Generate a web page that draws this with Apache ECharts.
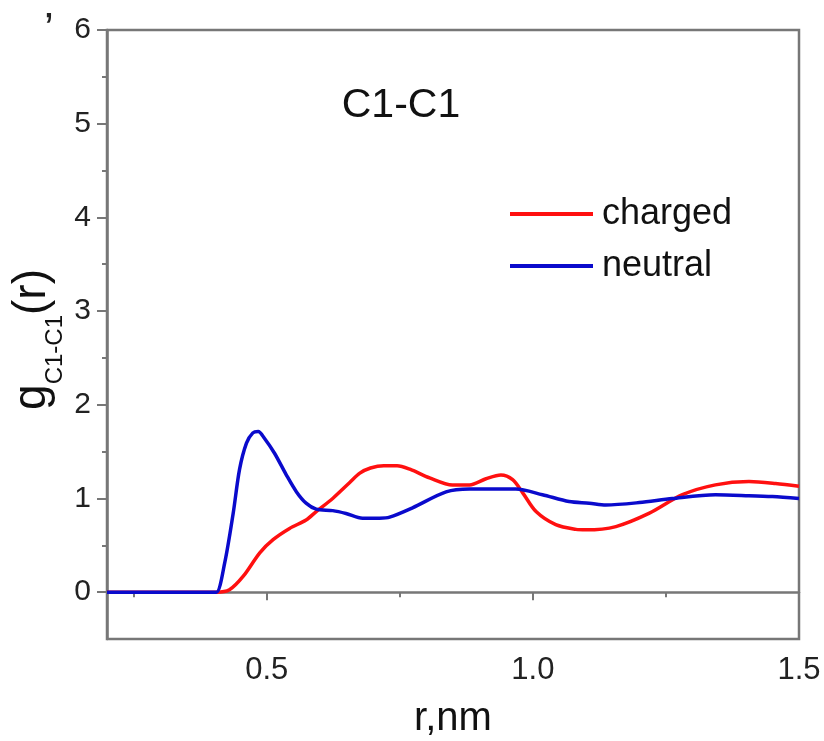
<!DOCTYPE html>
<html>
<head>
<meta charset="utf-8">
<script src="https://cdn.jsdelivr.net/npm/echarts@6/dist/echarts.min.js"></script>
<style>
html,body{margin:0;padding:0;background:#fff;}
#chart{width:824px;height:741px;}
</style>
</head>
<body>
<div id="chart"></div>
<script>
// ---- data ----
const chargedR = [0.20, 0.30, 0.395, 0.4055, 0.43, 0.456, 0.487, 0.512, 0.543, 0.574, 0.593, 0.624, 0.656, 0.675, 0.695, 0.720, 0.745, 0.770, 0.806, 0.849, 0.881, 0.912, 0.940, 0.962, 0.981, 1.006, 1.043, 1.081, 1.10, 1.156, 1.218, 1.281, 1.343, 1.406, 1.456, 1.50];
const chargedG = [0, 0, 0, 0, 0.025, 0.17, 0.42, 0.56, 0.68, 0.77, 0.86, 1.00, 1.17, 1.27, 1.325, 1.35, 1.35, 1.31, 1.22, 1.145, 1.145, 1.21, 1.25, 1.20, 1.06, 0.86, 0.72, 0.67, 0.665, 0.70, 0.84, 1.04, 1.145, 1.18, 1.16, 1.13];
const neutralR = [0.20, 0.30, 0.395, 0.4055, 0.421, 0.437, 0.449, 0.462, 0.474, 0.484, 0.496, 0.515, 0.537, 0.556, 0.574, 0.593, 0.624, 0.649, 0.680, 0.712, 0.731, 0.774, 0.837, 0.881, 0.968, 1.018, 1.068, 1.106, 1.137, 1.20, 1.262, 1.343, 1.406, 1.45, 1.50];
const neutralG = [0, 0, 0, 0, 0.31, 0.84, 1.31, 1.59, 1.70, 1.715, 1.64, 1.48, 1.25, 1.07, 0.95, 0.886, 0.87, 0.84, 0.79, 0.79, 0.80, 0.90, 1.07, 1.10, 1.10, 1.04, 0.967, 0.95, 0.93, 0.956, 1.00, 1.04, 1.03, 1.02, 1.00];
const seriesNames = ['charged', 'neutral'];
const xMajorTicks = [0.5, 1.0, 1.5];
const xMinorTicks = [0.25, 0.75, 1.25];
const yMajorTicks = [0, 1, 2, 3, 4, 5, 6];
const yMinorTicks = [0.5, 1.5, 2.5, 3.5, 4.5, 5.5];

const zip = (a, b) => a.map((v, i) => [v, b[i]]);
const FONT = 'Liberation Sans, Arial, sans-serif';
const AXIS_COLOR = '#777777';

const chart = echarts.init(document.getElementById('chart'));
const xRange = {min: 0.2, max: 1.5};
const yRange = {min: -0.5, max: 6};

chart.setOption({
  animation: false,
  backgroundColor: '#fff',
  title: {
    text: 'C1-C1',
    left: 396, top: 80, textAlign: 'center',
    textStyle: {fontFamily: FONT, fontSize: 41, fontWeight: 'normal', color: '#111'}
  },
  legend: {
    orient: 'vertical', left: 510, top: 196, padding: 0,
    icon: 'rect', itemWidth: 83, itemHeight: 4, itemGap: 16,
    data: seriesNames,
    textStyle: {fontFamily: FONT, fontSize: 36, color: '#111', padding: [0, 0, 0, 4]}
  },
  graphic: [{
    type: 'text', left: 44, top: 10,
    style: {text: '\u2019', font: '44px ' + FONT, fill: '#222'}
  }],
  grid: {left: 107, right: 25, top: 30, bottom: 102, show: true, borderColor: AXIS_COLOR, borderWidth: 2.5, outerBoundsMode: 'none'},
  xAxis: [{
    type: 'value', ...xRange,
    axisLine: {show: true, lineStyle: {color: AXIS_COLOR, width: 2.5}},
    axisTick: {show: true, customValues: xMajorTicks, length: 8, lineStyle: {color: AXIS_COLOR, width: 2}},
    axisLabel: {customValues: xMajorTicks, margin: 16, fontFamily: FONT, fontSize: 31, color: '#222',
      formatter: v => v.toFixed(1)},
    splitLine: {show: false},
    name: 'r,nm', nameLocation: 'middle', nameGap: 60, nameMoveOverlap: false,
    nameTextStyle: {fontFamily: FONT, fontSize: 40, color: '#111'}
  }, {
    type: 'value', ...xRange, position: 'bottom',
    axisLine: {show: false},
    axisTick: {show: true, customValues: xMinorTicks, length: 5, lineStyle: {color: AXIS_COLOR, width: 2}},
    axisLabel: {show: false},
    splitLine: {show: false}
  }],
  yAxis: [{
    type: 'value', ...yRange,
    axisLine: {show: true, lineStyle: {color: AXIS_COLOR, width: 2.5}},
    axisTick: {show: true, customValues: yMajorTicks, length: 10, lineStyle: {color: AXIS_COLOR, width: 2}},
    axisLabel: {customValues: yMajorTicks, margin: 16, fontFamily: FONT, fontSize: 30, color: '#222'},
    splitLine: {show: false},
    name: '{m|g}{s|C1-C1}{m|(r)}',
    nameLocation: 'middle', nameRotate: 90, nameGap: 40, nameMoveOverlap: false,
    nameTextStyle: {
      fontFamily: FONT, color: '#111', padding: [0, 10, 0, 0],
      rich: {
        m: {fontFamily: FONT, fontSize: 46, color: '#111'},
        s: {fontFamily: FONT, fontSize: 24, padding: [46, 0, 0, 0], color: '#111'}
      }
    }
  }, {
    type: 'value', ...yRange, position: 'left',
    axisLine: {show: false},
    axisTick: {show: true, customValues: yMinorTicks, length: 5, lineStyle: {color: AXIS_COLOR, width: 2}},
    axisLabel: {show: false},
    splitLine: {show: false}
  }],
  series: [{
    name: seriesNames[0], type: 'line', xAxisIndex: 0, yAxisIndex: 0,
    data: zip(chargedR, chargedG),
    smooth: 0.3, symbol: 'none',
    lineStyle: {color: '#ff1010', width: 3.5}, itemStyle: {color: '#ff1010'}, z: 3
  }, {
    name: seriesNames[1], type: 'line', xAxisIndex: 0, yAxisIndex: 0,
    data: zip(neutralR, neutralG),
    smooth: 0.3, symbol: 'none',
    lineStyle: {color: '#0a0acc', width: 3.5}, itemStyle: {color: '#0a0acc'}, z: 4
  }]
});
</script>
</body>
</html>
